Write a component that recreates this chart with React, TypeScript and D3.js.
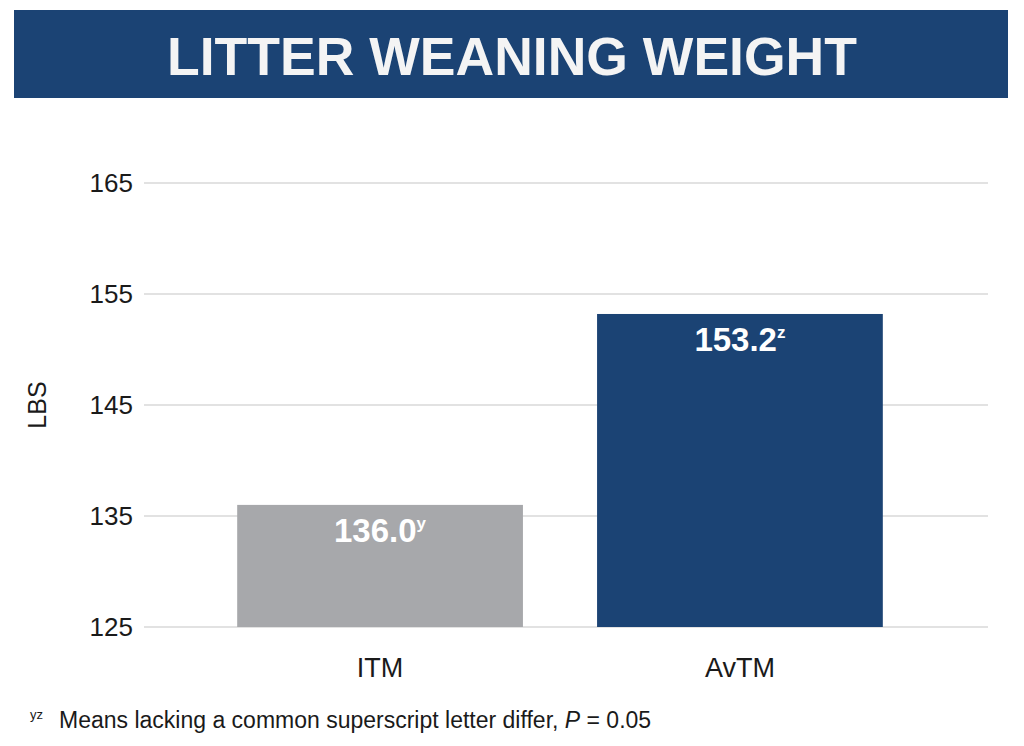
import React from "react";
import * as d3 from "d3";

const categories = ["ITM", "AvTM"];
const values = [136.0, 153.2];
const valueLabels = ["136.0", "153.2"];
const superscripts = ["y", "z"];
const yTicks = [125, 135, 145, 155, 165];
const title = "LITTER WEANING WEIGHT";
const yAxisTitle = "LBS";
const footnoteMark = "yz";
const footnoteText = "Means lacking a common superscript letter differ, ";

const W = 1024;
const H = 746;
const BLUE = "#1b4374";
const GREY = "#a7a8ab";
const FONT = "'Liberation Sans', Arial, Helvetica, sans-serif";

export default function App() {
  const y = d3.scaleLinear().domain([125, 165]).range([627, 183]);
  const x = d3
    .scaleBand<string>()
    .domain(categories)
    .range([137.5, 982.5])
    .paddingInner(0.206)
    .paddingOuter(0.277);
  const gridX0 = 144;
  const gridX1 = 988;

  return (
    <svg
      width={W}
      height={H}
      style={{ position: "absolute", left: 0, top: 0, background: "#fff" }}
      fontFamily={FONT}
    >
      <rect x={14} y={10} width={994} height={88} fill={BLUE} />
      <text
        x={512}
        y={75}
        textAnchor="middle"
        fill="#f4f4f4"
        fontWeight="bold"
        fontSize={53}
        textLength={690}
        lengthAdjust="spacingAndGlyphs"
      >
        {title}
      </text>

      {yTicks.map((t) => (
        <g key={t}>
          <line
            x1={gridX0}
            x2={gridX1}
            y1={y(t)}
            y2={y(t)}
            stroke="#d9d9d9"
            strokeWidth={1.5}
          />
          <text
            x={133}
            y={y(t)}
            dy="0.35em"
            textAnchor="end"
            fontSize={26}
            fill="#1a1a1a"
          >
            {t}
          </text>
        </g>
      ))}

      <text
        transform={`translate(46,${y(145)}) rotate(-90)`}
        textAnchor="middle"
        fontSize={25}
        fill="#1a1a1a"
      >
        {yAxisTitle}
      </text>

      {categories.map((c, i) => {
        const bx = x(c)!;
        const bw = x.bandwidth();
        const top = y(values[i]);
        return (
          <g key={c}>
            <rect
              x={bx}
              y={top}
              width={bw}
              height={y(125) - top}
              fill={i === 0 ? GREY : BLUE}
            />
            <text
              x={bx + bw / 2}
              y={top + 37}
              textAnchor="middle"
              fill="#fff"
              fontWeight="bold"
              fontSize={33}
            >
              {valueLabels[i]}
              <tspan fontSize={17} dy={-13}>
                {superscripts[i]}
              </tspan>
            </text>
            <text
              x={bx + bw / 2}
              y={677}
              textAnchor="middle"
              fontSize={27}
              fill="#1a1a1a"
            >
              {c}
            </text>
          </g>
        );
      })}

      <text x={30} y={719} fontSize={13} fill="#1a1a1a">
        {footnoteMark}
      </text>
      <text x={59} y={728} fontSize={23} fill="#1a1a1a">
        {footnoteText}
        <tspan fontStyle="italic">P</tspan>
        {" = 0.05"}
      </text>
    </svg>
  );
}
